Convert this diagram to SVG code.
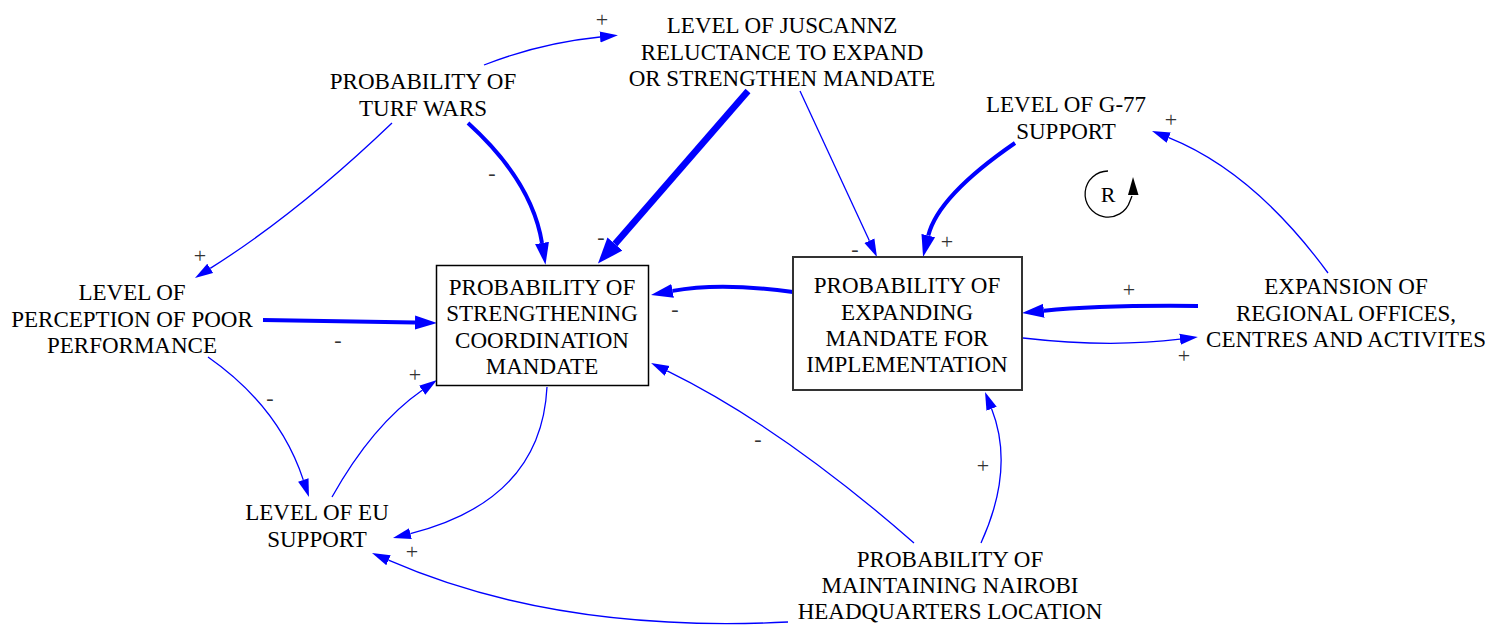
<svg xmlns="http://www.w3.org/2000/svg" width="1491" height="628" viewBox="0 0 1491 628">
<style>
.t{font-size:23px;fill:#000;text-anchor:middle}
.p{font-size:22px;fill:#333;text-anchor:middle}
.thin{fill:none;stroke:#0000FF;stroke-width:1.3}
.med{fill:none;stroke:#0000FF;stroke-width:4}
.big{fill:none;stroke:#0000FF;stroke-width:6.5}
</style>
<defs>
<marker id="aS" markerUnits="userSpaceOnUse" markerWidth="19" markerHeight="12" refX="0" refY="6" orient="auto"><path d="M0,0.5 L18,6 L0,11.5 Z" fill="#0000FF"/></marker>
<marker id="aM" markerUnits="userSpaceOnUse" markerWidth="23" markerHeight="15" refX="0" refY="7.5" orient="auto"><path d="M0,0.5 L22,7.5 L0,14.5 Z" fill="#0000FF"/></marker>
<marker id="aL" markerUnits="userSpaceOnUse" markerWidth="27" markerHeight="21" refX="0" refY="10.5" orient="auto"><path d="M0,0.5 L26,10.5 L0,20.5 Z" fill="#0000FF"/></marker>
</defs>
<rect width="1491" height="628" fill="#fff"/>
<g font-family="'Liberation Serif', 'Times New Roman', Tinos, serif">
<g id="connectors">
<path class="thin" d="M484,65 Q540,43 600,37" marker-end="url(#aS)"/>
<path class="med" d="M468,123 Q532,181 542,243" marker-end="url(#aM)"/>
<path class="big" d="M748,91 L615,244" marker-end="url(#aL)"/>
<path class="thin" d="M800,91 L869.4,240.7" marker-end="url(#aS)"/>
<path class="med" d="M1015,143 Q938,196 928.3,235.6" marker-end="url(#aM)"/>
<path class="thin" d="M1328,273 Q1254,172 1168.7,137.7" marker-end="url(#aS)"/>
<path class="med" d="M1198,306 Q1100,305 1043.9,310.8" marker-end="url(#aM)"/>
<path class="thin" d="M1023,338 Q1110,348 1180,339.2" marker-end="url(#aS)"/>
<path class="med" d="M793,292 Q720,282 672.6,290.9" marker-end="url(#aM)"/>
<path class="med" d="M263,320 L415,322.6" marker-end="url(#aM)"/>
<path class="thin" d="M208,357 Q279,406.6 303.3,479.9" marker-end="url(#aS)"/>
<path class="thin" d="M332,497 Q372.7,424.7 422.2,390.3" marker-end="url(#aS)"/>
<path class="thin" d="M547,387 Q541.3,500.5 410.4,533.6" marker-end="url(#aS)"/>
<path class="thin" d="M788,622 Q556.7,633.6 388.5,560.2" marker-end="url(#aS)"/>
<path class="thin" d="M914,543 Q781.5,427 667.2,370.9" marker-end="url(#aS)"/>
<path class="thin" d="M981,543 Q1015,468.5 991.6,408.8" marker-end="url(#aS)"/>
<path class="thin" d="M392,123 Q298,213 210.2,268.4" marker-end="url(#aS)"/>
<text class="p" x="602" y="27">+</text>
<text class="p" x="492" y="180">-</text>
<text class="p" x="601" y="244">-</text>
<text class="p" x="855" y="256">-</text>
<text class="p" x="947" y="249">+</text>
<text class="p" x="1171" y="127">+</text>
<text class="p" x="1129" y="297">+</text>
<text class="p" x="1184" y="363">+</text>
<text class="p" x="675" y="316">-</text>
<text class="p" x="338" y="347">-</text>
<text class="p" x="270" y="405">-</text>
<text class="p" x="415" y="382">+</text>
<text class="p" x="412" y="559">+</text>
<text class="p" x="758" y="446">-</text>
<text class="p" x="983" y="473">+</text>
<text class="p" x="200" y="263">+</text>
</g>

<g id="loop-R">
<path d="M1108,171 A23,23 0 1,0 1130,201 L1132,196" fill="none" stroke="#000" stroke-width="1.3"/>
<path d="M1133,177 L1128,195 L1138.5,195 Z" fill="#000"/>
<text class="t" x="1108" y="202" style="font-size:22px">R</text>
</g>

<g id="node-turf-wars">
<text class="t" x="423" y="89">PROBABILITY OF</text>
<text class="t" x="423" y="116">TURF WARS</text>
</g>
<g id="node-juscannz">
<text class="t" x="782" y="33">LEVEL OF JUSCANNZ</text>
<text class="t" x="782" y="60">RELUCTANCE TO EXPAND</text>
<text class="t" x="782" y="86">OR STRENGTHEN MANDATE</text>
</g>
<g id="node-g77">
<text class="t" x="1066" y="112">LEVEL OF G-77</text>
<text class="t" x="1066" y="139">SUPPORT</text>
</g>
<g id="node-expansion">
<text class="t" x="1346" y="294">EXPANSION OF</text>
<text class="t" x="1346" y="321">REGIONAL OFFICES,</text>
<text class="t" x="1346" y="347">CENTRES AND ACTIVITES</text>
</g>
<g id="node-perception">
<text class="t" x="132" y="300">LEVEL OF</text>
<text class="t" x="132" y="327">PERCEPTION OF POOR</text>
<text class="t" x="132" y="353">PERFORMANCE</text>
</g>
<g id="node-eu">
<text class="t" x="317" y="520">LEVEL OF EU</text>
<text class="t" x="317" y="547">SUPPORT</text>
</g>
<g id="node-nairobi">
<text class="t" x="950" y="567">PROBABILITY OF</text>
<text class="t" x="950" y="593">MAINTAINING NAIROBI</text>
<text class="t" x="950" y="619">HEADQUARTERS LOCATION</text>
</g>
<g id="node-coordination">
<rect x="436.5" y="265.5" width="212" height="120" fill="#fff" stroke="#000" stroke-width="1.5"/>
<text class="t" x="542" y="295">PROBABILITY OF</text>
<text class="t" x="542" y="321">STRENGTHENING</text>
<text class="t" x="542" y="348">COORDINATION</text>
<text class="t" x="542" y="374">MANDATE</text>
</g>
<g id="node-implementation">
<rect x="793" y="257" width="229" height="133" fill="#fff" stroke="#333" stroke-width="2"/>
<text class="t" x="907" y="293">PROBABILITY OF</text>
<text class="t" x="907" y="320">EXPANDING</text>
<text class="t" x="907" y="346">MANDATE FOR</text>
<text class="t" x="907" y="372">IMPLEMENTATION</text>
</g>
</g>
</svg>
